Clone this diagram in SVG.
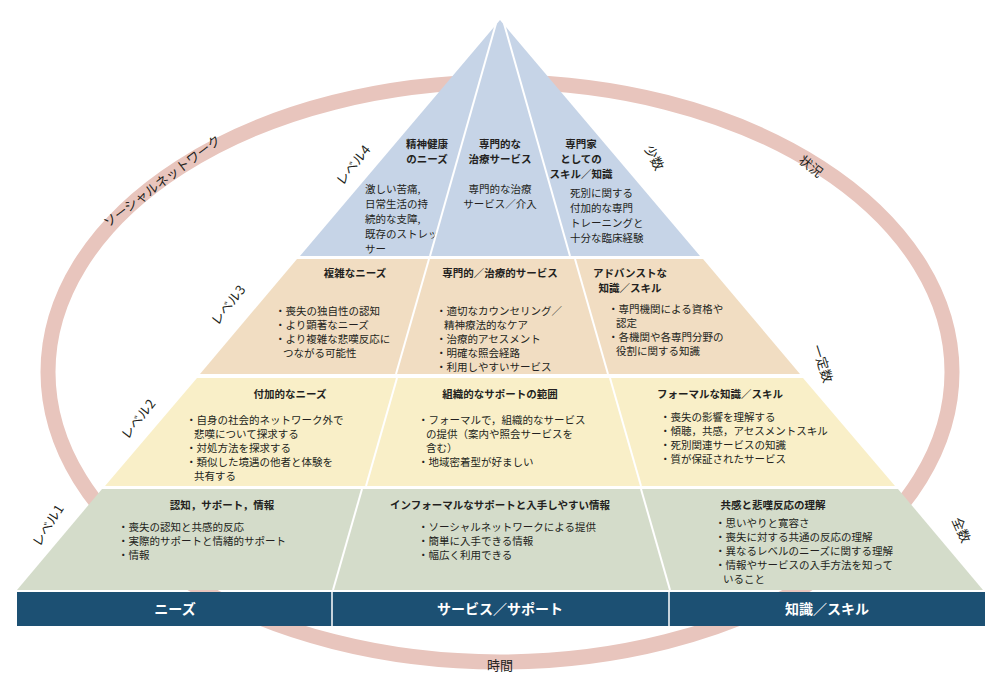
<svg xmlns="http://www.w3.org/2000/svg" width="1001" height="695" viewBox="0 0 1001 695">
<style>
text{font-family:"Noto Sans CJK JP","Noto Sans",sans-serif;fill:#231f20;font-size:10.5px}
.h{font-weight:bold;text-anchor:middle}
.m{text-anchor:middle}
.lv{font-size:13px}
.bar{fill:#fff;font-weight:bold;font-size:14px;text-anchor:middle}
.div{stroke:#fff;stroke-width:2}
</style>
<rect width="1001" height="695" fill="#fff"/>
<ellipse cx="500" cy="372" rx="452" ry="290" fill="none" stroke="#e8c5bd" stroke-width="15"/>
<g id="ring-labels">
<text class="lv" transform="translate(165,185) rotate(-37)" text-anchor="middle">ソーシャルネットワーク</text>
<text class="lv" transform="translate(808,170) rotate(38)" text-anchor="middle">状況</text>
<text class="lv" transform="translate(650,160) rotate(62)" text-anchor="middle">少数</text>
<text class="lv" transform="translate(818,365) rotate(72)" text-anchor="middle">一定数</text>
<text class="lv" transform="translate(957,532) rotate(66)" text-anchor="middle">全数</text>
<text class="lv m" x="500" y="670">時間</text>
</g>
<g id="level4">
<polygon points="500,20 700,256 300,256" fill="#c6d4e7"/>
<text class="lv" transform="translate(357,168) rotate(-52)" text-anchor="middle">レベル4</text>
<text class="h" x="427" y="148">精神健康</text><text class="h" x="427" y="163">のニーズ</text>
<text x="365" y="193">激しい苦痛,</text><text x="365" y="208">日常生活の持</text><text x="365" y="223">続的な支障,</text><text x="365" y="238">既存のストレッ</text><text x="365" y="253">サー</text>
<text class="h" x="500" y="148">専門的な</text><text class="h" x="500" y="163">治療サービス</text>
<text class="m" x="500" y="193">専門的な治療</text><text class="m" x="500" y="208">サービス／介入</text>
<text class="h" x="581" y="148">専門家</text><text class="h" x="581" y="163">としての</text><text class="h" x="581" y="178">スキル／知識</text>
<text x="570" y="197">死別に関する</text><text x="570" y="212">付加的な専門</text><text x="570" y="227">トレーニングと</text><text x="570" y="242">十分な臨床経験</text>
</g>
<g id="level3">
<polygon points="297,259 703,259 800,374 200,374" fill="#f1ddc2"/>
<text class="lv" transform="translate(232,308) rotate(-52)" text-anchor="middle">レベル3</text>
<text class="h" x="355" y="277">複雑なニーズ</text>
<text x="275" y="315">・喪失の独自性の認知</text><text x="275" y="329">・より顕著なニーズ</text><text x="275" y="343">・より複雑な悲嘆反応に</text><text x="283" y="357">つながる可能性</text>
<text class="h" x="500" y="277">専門的／治療的サービス</text>
<text x="436" y="315">・適切なカウンセリング／</text><text x="444" y="329">精神療法的なケア</text><text x="436" y="343">・治療的アセスメント</text><text x="436" y="357">・明確な照会経路</text><text x="436" y="371">・利用しやすいサービス</text>
<text class="h" x="630" y="277">アドバンストな</text><text class="h" x="630" y="292">知識／スキル</text>
<text x="608" y="313">・専門機関による資格や</text><text x="616" y="327">認定</text><text x="608" y="341">・各機関や各専門分野の</text><text x="616" y="355">役割に関する知識</text>
</g>
<g id="level2">
<polygon points="197,378 803,378 895,486 105,486" fill="#f9efc8"/>
<text class="lv" transform="translate(142,422) rotate(-52)" text-anchor="middle">レベル2</text>
<text class="h" x="290" y="398">付加的なニーズ</text>
<text x="186" y="424">・自身の社会的ネットワーク外で</text><text x="194" y="438">悲嘆について探求する</text><text x="186" y="452">・対処方法を探求する</text><text x="186" y="466">・類似した境遇の他者と体験を</text><text x="194" y="480">共有する</text>
<text class="h" x="500" y="398">組織的なサポートの範囲</text>
<text x="418" y="424">・フォーマルで，組織的なサービス</text><text x="426" y="438">の提供（案内や照会サービスを</text><text x="426" y="452">含む）</text><text x="418" y="466">・地域密着型が好ましい</text>
<text class="h" x="720" y="398">フォーマルな知識／スキル</text>
<text x="660" y="421">・喪失の影響を理解する</text><text x="660" y="435">・傾聴，共感，アセスメントスキル</text><text x="660" y="449">・死別関連サービスの知識</text><text x="660" y="463">・質が保証されたサービス</text>
</g>
<g id="level1">
<polygon points="102,489 898,489 983,590 17,590" fill="#d4dcca"/>
<text class="lv" transform="translate(52,528) rotate(-58)" text-anchor="middle">レベル1</text>
<text class="h" x="222" y="509">認知，サポート，情報</text>
<text x="118" y="531">・喪失の認知と共感的反応</text><text x="118" y="545">・実際的サポートと情緒的サポート</text><text x="118" y="559">・情報</text>
<text class="h" x="500" y="509">インフォーマルなサポートと入手しやすい情報</text>
<text x="418" y="531">・ソーシャルネットワークによる提供</text><text x="418" y="545">・簡単に入手できる情報</text><text x="418" y="559">・幅広く利用できる</text>
<text class="h" x="773" y="509">共感と悲嘆反応の理解</text>
<text x="715" y="527">・思いやりと寛容さ</text><text x="715" y="541">・喪失に対する共通の反応の理解</text><text x="715" y="555">・異なるレベルのニーズに関する理解</text><text x="715" y="569">・情報やサービスの入手方法を知って</text><text x="723" y="583">いること</text>
</g>
<g id="connectors">
<line class="div" x1="497" y1="20" x2="430" y2="256"/>
<line class="div" x1="503" y1="20" x2="570" y2="256"/>
<line class="div" x1="429" y1="259" x2="396" y2="374"/>
<line class="div" x1="575" y1="259" x2="608" y2="374"/>
<line class="div" x1="397" y1="378" x2="366" y2="486"/>
<line class="div" x1="610" y1="378" x2="641" y2="486"/>
<line class="div" x1="362" y1="489" x2="333" y2="590"/>
<line class="div" x1="641" y1="489" x2="670" y2="590"/>
</g>
<g id="bar">
<rect x="17" y="592" width="968" height="34" fill="#1c5073"/>
<line x1="332" y1="592" x2="332" y2="626" stroke="#fff" stroke-width="1.5"/>
<line x1="669" y1="592" x2="669" y2="626" stroke="#fff" stroke-width="1.5"/>
<text class="bar" x="175" y="614">ニーズ</text>
<text class="bar" x="500" y="614">サービス／サポート</text>
<text class="bar" x="827" y="614">知識／スキル</text>
</g>
</svg>
